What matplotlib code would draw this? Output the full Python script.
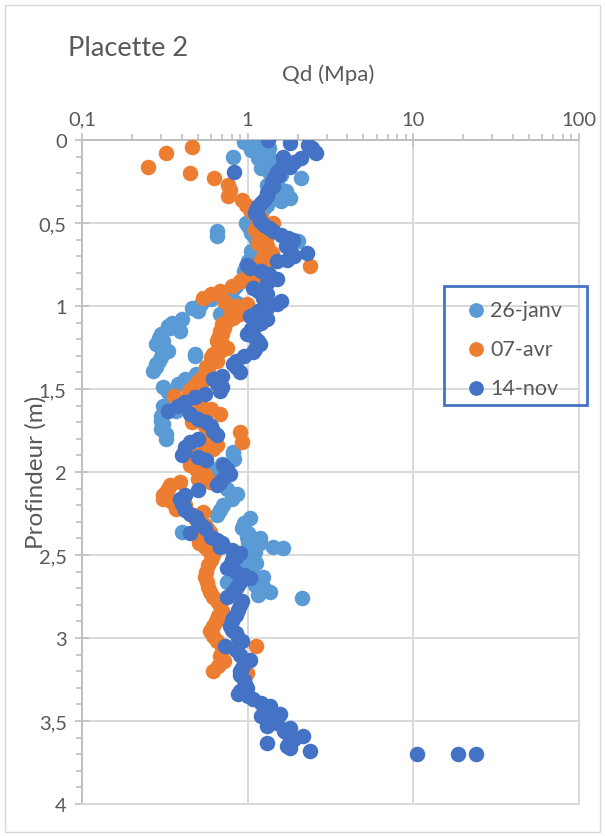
import matplotlib
matplotlib.use("Agg")
import matplotlib.pyplot as plt
from matplotlib.ticker import LogLocator, MultipleLocator, FixedLocator, FuncFormatter
from matplotlib.patches import Rectangle

plt.rcParams['font.family'] = ['Lato', 'DejaVu Sans']

# Placette 2 - penetrometer profiles, Qd (MPa) vs depth (m)
labels = ["26-janv", "07-avr", "14-nov"]
colors = ["#5B9BD5", "#ED7D31", "#4472C4"]

depth_janv = [0.00, 0.01, 0.02, 0.03, 0.05, 0.06, 0.08, 0.10, 0.11, 0.12, 0.14, 0.15, 0.17, 0.19,
              0.21, 0.23, 0.25, 0.27, 0.29, 0.31, 0.33, 0.35, 0.37, 0.39, 0.41, 0.43, 0.45, 0.47,
              0.50, 0.52, 0.55, 0.58, 0.56, 0.59, 0.61, 0.63, 0.65, 0.67, 0.70, 0.73, 0.76, 0.79,
              0.82, 0.85, 0.88, 0.91, 0.93, 0.96, 0.98, 0.99, 1.01, 1.03, 1.05, 1.08, 1.10, 1.12,
              1.13, 1.15, 1.17, 1.19, 1.21, 1.23, 1.25, 1.27, 1.29, 1.30, 1.31, 1.33, 1.35, 1.37,
              1.39, 1.41, 1.44, 1.47, 1.49, 1.52, 1.56, 1.60, 1.63, 1.66, 1.69, 1.71, 1.74, 1.77,
              1.80, 1.83, 1.86, 1.88, 1.89, 1.92, 1.95, 1.98, 2.01, 2.04, 2.07, 2.10, 2.13, 2.16,
              2.20, 2.23, 2.26, 2.28, 2.31, 2.34, 2.36, 2.37, 2.39, 2.40, 2.42, 2.43, 2.45, 2.46,
              2.48, 2.50, 2.52, 2.55, 2.57, 2.60, 2.63, 2.66, 2.68, 2.70, 2.72, 2.74, 2.76]
qd_janv = [1.00, 0.95, 1.10, 1.20, 1.35, 1.05, 1.25, 0.82, 1.15, 1.40, 1.30, 1.50, 1.20, 1.35,
           1.60, 2.10, 1.45, 1.30, 1.55, 1.70, 1.45, 1.80, 1.60, 1.30, 1.25, 1.15, 1.20, 1.05,
           0.98, 1.00, 0.65, 0.65, 1.05, 1.10, 2.00, 1.15, 1.20, 1.05, 1.10, 1.00, 0.98, 0.95,
           1.00, 0.92, 0.85, 0.80, 0.78, 0.60, 0.86, 0.52, 0.46, 0.50, 0.68, 0.40, 0.35, 0.33,
           0.34, 0.39, 0.30, 0.29, 0.31, 0.28, 0.30, 0.33, 0.48, 0.48, 0.30, 0.29, 0.28, 0.28,
           0.27, 0.49, 0.42, 0.38, 0.31, 0.33, 0.35, 0.31, 0.37, 0.30, 0.30, 0.31, 0.30, 0.32,
           0.32, 0.45, 0.55, 0.81, 0.81, 0.83, 0.70, 0.60, 0.55, 0.60, 0.70, 0.75, 0.86, 0.80,
           0.71, 0.68, 0.65, 1.03, 0.95, 0.93, 0.40, 1.00, 0.99, 1.18, 1.00, 1.18, 1.42, 1.63,
           1.10, 1.05, 1.00, 1.13, 0.95, 1.05, 1.23, 0.75, 1.10, 1.25, 1.36, 1.15, 2.12]

depth_avr = [0.04, 0.08, 0.16, 0.20, 0.23, 0.27, 0.30, 0.34, 0.36, 0.39, 0.42, 0.45, 0.47, 0.50,
             0.52, 0.54, 0.56, 0.58, 0.60, 0.62, 0.64, 0.66, 0.68, 0.70, 0.72, 0.74, 0.76, 0.78,
             0.80, 0.83, 0.85, 0.88, 0.91, 0.93, 0.95, 0.97, 0.99, 1.00, 1.02, 1.05, 1.07, 1.09,
             1.11, 1.13, 1.15, 1.17, 1.19, 1.21, 1.23, 1.25, 1.27, 1.29, 1.31, 1.33, 1.35, 1.37,
             1.39, 1.41, 1.43, 1.45, 1.47, 1.49, 1.51, 1.54, 1.56, 1.58, 1.60, 1.62, 1.65, 1.68,
             1.70, 1.72, 1.74, 1.76, 1.78, 1.80, 1.82, 1.84, 1.86, 1.88, 1.90, 1.92, 1.94, 1.96,
             1.98, 2.00, 2.02, 2.04, 2.06, 2.06, 2.08, 2.10, 2.12, 2.14, 2.16, 2.18, 2.20, 2.22,
             2.24, 2.26, 2.28, 2.30, 2.32, 2.34, 2.36, 2.38, 2.40, 2.43, 2.45, 2.47, 2.50, 2.53,
             2.56, 2.60, 2.63, 2.66, 2.69, 2.72, 2.75, 2.78, 2.81, 2.84, 2.87, 2.90, 2.93, 2.96,
             2.99, 3.02, 3.05, 3.08, 3.11, 3.14, 3.17, 3.20, 3.21]
qd_avr = [0.46, 0.32, 0.25, 0.45, 0.63, 0.76, 0.78, 0.76, 0.93, 0.98, 1.03, 1.10, 1.20, 1.42,
          1.15, 1.10, 1.20, 1.30, 1.23, 1.15, 1.30, 1.25, 1.40, 1.36, 1.20, 1.30, 2.37, 1.10,
          1.00, 1.07, 0.90, 0.80, 0.68, 0.60, 0.54, 0.72, 0.99, 0.85, 0.78, 0.90, 0.81, 0.75,
          0.70, 0.72, 0.68, 0.70, 0.66, 0.65, 0.70, 0.75, 0.68, 0.62, 0.60, 0.65, 0.59, 0.56,
          0.58, 0.55, 0.54, 0.50, 0.52, 0.47, 0.44, 0.36, 0.43, 0.48, 0.52, 0.60, 0.68, 0.55,
          0.46, 0.55, 0.60, 0.90, 0.62, 0.58, 0.92, 0.65, 0.62, 0.55, 0.50, 0.48, 0.46, 0.45,
          0.49, 0.52, 0.55, 0.50, 0.59, 0.39, 0.34, 0.33, 0.32, 0.31, 0.31, 0.35, 0.42, 0.37,
          0.54, 0.50, 0.48, 0.52, 0.55, 0.57, 0.59, 0.56, 0.53, 0.51, 0.55, 0.58, 0.62, 0.60,
          0.58, 0.56, 0.55, 0.57, 0.58, 0.59, 0.62, 0.65, 0.68, 0.70, 0.66, 0.64, 0.62, 0.59,
          0.62, 0.65, 1.13, 0.70, 0.68, 0.72, 0.66, 0.62, 0.99]

depth_nov = [0.00, 0.02, 0.03, 0.05, 0.07, 0.08, 0.10, 0.11, 0.13, 0.14, 0.16, 0.17, 0.19, 0.19,
             0.21, 0.23, 0.25, 0.28, 0.30, 0.32, 0.34, 0.36, 0.38, 0.40, 0.42, 0.44, 0.46, 0.49,
             0.51, 0.53, 0.55, 0.57, 0.59, 0.60, 0.62, 0.64, 0.66, 0.68, 0.70, 0.72, 0.73, 0.75,
             0.77, 0.79, 0.81, 0.84, 0.86, 0.89, 0.91, 0.93, 0.95, 0.97, 0.99, 1.01, 1.03, 1.06,
             1.08, 1.10, 1.12, 1.14, 1.17, 1.19, 1.21, 1.23, 1.26, 1.28, 1.30, 1.33, 1.35, 1.37,
             1.40, 1.42, 1.44, 1.47, 1.49, 1.51, 1.53, 1.55, 1.58, 1.60, 1.63, 1.65, 1.68, 1.70,
             1.72, 1.75, 1.78, 1.80, 1.82, 1.85, 1.88, 1.90, 1.91, 1.93, 1.96, 1.98, 2.01, 2.03,
             2.06, 2.08, 2.11, 2.14, 2.16, 2.19, 2.21, 2.23, 2.25, 2.27, 2.30, 2.32, 2.34, 2.37,
             2.39, 2.41, 2.43, 2.45, 2.47, 2.49, 2.51, 2.53, 2.56, 2.58, 2.60, 2.62, 2.64, 2.66,
             2.68, 2.70, 2.72, 2.75, 2.78, 2.80, 2.83, 2.86, 2.88, 2.90, 2.93, 2.95, 2.97, 3.00,
             3.02, 3.05, 3.07, 3.10, 3.13, 3.15, 3.18, 3.20, 3.22, 3.25, 3.28, 3.30, 3.32, 3.34,
             3.35, 3.37, 3.39, 3.41, 3.43, 3.45, 3.46, 3.47, 3.49, 3.51, 3.53, 3.54, 3.56, 3.58,
             3.59, 3.61, 3.63, 3.65, 3.66, 3.68, 3.70, 3.70, 3.70]
qd_nov = [1.32, 1.79, 2.30, 2.45, 2.55, 2.60, 1.63, 2.10, 1.90, 1.75, 1.79, 1.60, 1.50, 0.83,
          1.55, 1.45, 1.40, 1.42, 1.35, 1.30, 1.30, 1.25, 1.20, 1.15, 1.13, 1.10, 1.15, 1.18,
          1.25, 1.35, 1.42, 1.60, 1.75, 1.87, 1.80, 1.70, 1.79, 2.27, 1.90, 1.72, 1.50, 0.99,
          1.03, 1.20, 1.35, 1.50, 1.30, 1.07, 1.15, 1.30, 1.23, 1.60, 1.50, 1.30, 1.15, 1.03,
          1.30, 1.20, 1.10, 1.05, 0.99, 1.10, 1.15, 1.18, 1.10, 1.07, 0.95, 0.85, 0.81, 0.85,
          0.90, 0.70, 0.62, 0.65, 0.70, 0.68, 0.55, 0.48, 0.42, 0.38, 0.33, 0.45, 0.50, 0.56,
          0.60, 0.62, 0.65, 0.50, 0.45, 0.42, 0.41, 0.40, 0.50, 0.56, 0.71, 0.75, 0.78, 0.72,
          0.68, 0.65, 0.50, 0.42, 0.39, 0.40, 0.41, 0.42, 0.45, 0.49, 0.50, 0.52, 0.55, 0.45,
          0.60, 0.65, 0.70, 0.68, 0.80, 0.90, 0.85, 0.80, 0.78, 0.75, 0.85, 0.95, 1.03, 0.90,
          0.88, 0.85, 0.82, 0.75, 0.93, 0.90, 0.88, 0.85, 0.82, 0.80, 0.78, 0.80, 0.85, 0.88,
          0.93, 0.73, 0.85, 0.90, 1.03, 0.95, 0.92, 0.90, 0.90, 0.95, 0.97, 0.99, 0.90, 0.87,
          1.00, 1.07, 1.20, 1.36, 1.30, 1.25, 1.56, 1.21, 1.40, 1.50, 1.30, 1.79, 1.65, 1.75,
          2.15, 1.90, 1.30, 1.72, 1.80, 2.37, 10.5, 18.5, 24.0]

xticks = [0.1, 1, 10, 100]
yticks = [0, 0.5, 1, 1.5, 2, 2.5, 3, 3.5, 4]

W, H = 605, 837
fig = plt.figure(figsize=(W / 100, H / 100), dpi=100)
ax = fig.add_axes([82 / W, 32 / H, 497 / W, 664 / H])

series = [(depth_janv, qd_janv), (depth_avr, qd_avr), (depth_nov, qd_nov)]
for (d, q), lab, col in zip(series, labels, colors):
    ax.scatter(q, d, s=125, color=col, label=lab, linewidths=0, zorder=3)

ax.set_xscale("log")
ax.set_xlim(0.1, 100)
ax.set_ylim(4, 0)
ax.xaxis.tick_top()
ax.xaxis.set_major_locator(FixedLocator(xticks))
ax.xaxis.set_minor_locator(LogLocator(base=10, subs=range(2, 10)))
ax.yaxis.set_major_locator(FixedLocator(yticks))
ax.yaxis.set_minor_locator(MultipleLocator(0.1))
comma = FuncFormatter(lambda v, p: ("%g" % v).replace(".", ","))
ax.xaxis.set_major_formatter(comma)
ax.yaxis.set_major_formatter(comma)
ax.xaxis.set_minor_formatter(FuncFormatter(lambda v, p: ""))

ax.tick_params(which="major", direction="inout", length=10, width=1.2, color="#BFBFBF",
               labelsize=14.5, labelcolor="#595959")
ax.tick_params(which="minor", direction="out", length=4, width=1.2, color="#BFBFBF")
ax.tick_params(axis="x", which="major", pad=4)
ax.tick_params(axis="y", which="major", pad=6)

ax.grid(True, which="major", color="#D9D9D9", lw=1.4, zorder=0)
ax.set_axisbelow(True)
for side in ["right", "bottom"]:
    ax.spines[side].set_color("#D9D9D9")
    ax.spines[side].set_linewidth(1.4)
for side in ["left", "top"]:
    ax.spines[side].set_color("#BFBFBF")
    ax.spines[side].set_linewidth(1.4)

fig.text(68 / W, 1 - 48 / H, "Placette 2", fontsize=19.5, color="#595959", ha="left", va="center")
fig.text(328 / W, 1 - 75 / H, "Qd (Mpa)", fontsize=16, color="#595959", ha="center", va="center")
fig.text(36 / W, 1 - 472 / H, "Profindeur (m)", fontsize=17.5, color="#595959", rotation=90,
         ha="center", va="center")

# legend frame drawn separately so the box size can match the original
fig.patches.append(Rectangle((444 / W, 1 - 406 / H), 143 / W, 119 / H, transform=fig.transFigure,
                             fill=False, edgecolor="#4472C4", lw=2, zorder=5))
leg = ax.legend(loc="upper left", bbox_to_anchor=(470 / W, 1 - 301 / H),
                bbox_transform=fig.transFigure, frameon=False, fontsize=15.5,
                labelspacing=0.88, borderpad=0, handlelength=0.6, handletextpad=0.35,
                borderaxespad=0, markerscale=0.95)
for t in leg.get_texts():
    t.set_color("#595959")

fig.patches.append(Rectangle((5 / W, 4 / H), 595 / W, 827 / H, transform=fig.transFigure,
                             fill=False, edgecolor="#D9D9D9", lw=1))

fig.savefig("out.png", dpi=100)
